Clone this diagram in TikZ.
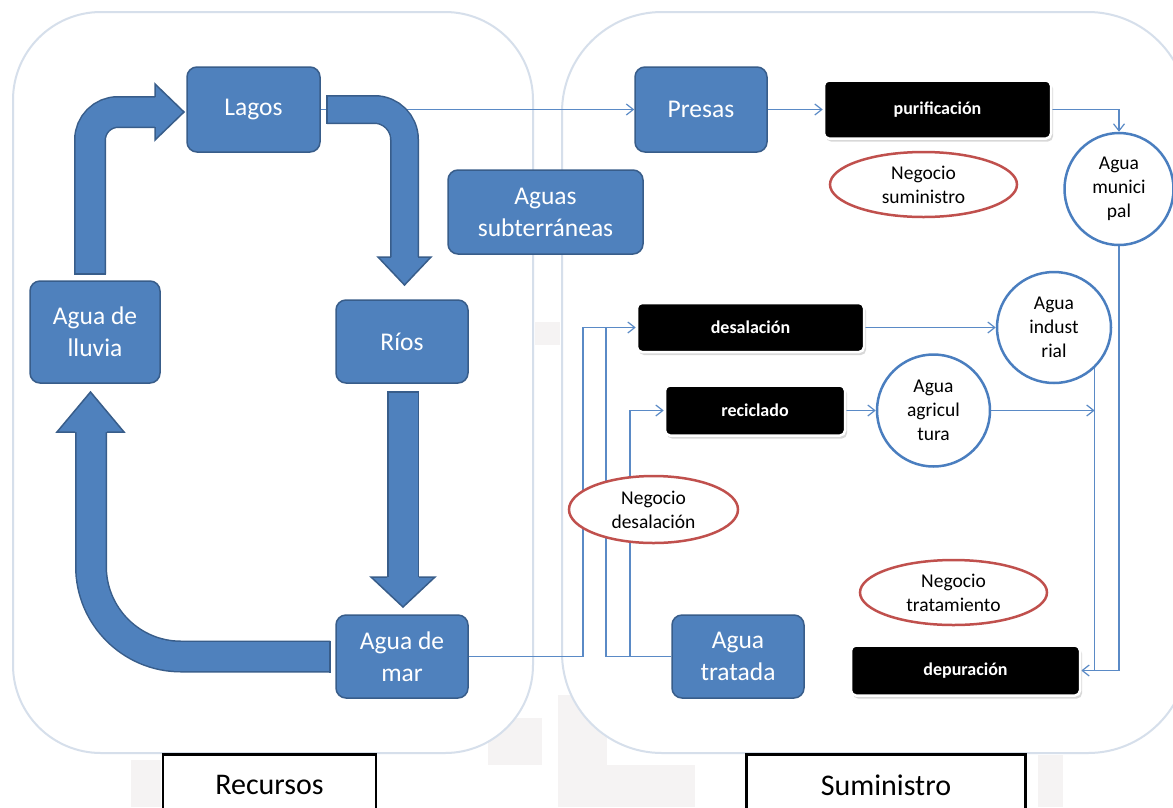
\documentclass[tikz,border=0pt]{standalone}
\usepackage{fontspec}
\setmainfont{Carlito}
\usetikzlibrary{arrows.meta,shapes.geometric,shadows}
\definecolor{bfill}{HTML}{4F81BD}
\definecolor{bdark}{HTML}{385D8A}
\definecolor{cblue}{HTML}{4A7EBF}
\definecolor{nred}{HTML}{C0504D}
\definecolor{frame}{HTML}{D6DFEB}
\definecolor{faint}{HTML}{F5F3F3}
\definecolor{lineblue}{HTML}{5A8AC6}
\pgfdeclarelayer{bgA}\pgfdeclarelayer{bgB}\pgfsetlayers{bgA,bgB,main}
\begin{document}
\begin{tikzpicture}[x=1pt,y=-1pt,
  bluebox/.style={rectangle, rounded corners=10pt, fill=bfill, draw=bdark, line width=1.5pt, text=white, align=center, font=\fontsize{25.5}{32}\selectfont, inner sep=0pt},
  blackbox/.style={rectangle, rounded corners=5pt, fill=black, draw=white, line width=2.5pt, text=white, font=\bfseries\fontsize{18}{20}\selectfont, inner sep=0pt, drop shadow={shadow xshift=2pt, shadow yshift=-3pt, opacity=0.3}},
  watercirc/.style={ellipse, draw=cblue, line width=2.5pt, fill=white, align=center, font=\fontsize{19.5}{24}\selectfont, inner sep=0pt},
  bizell/.style={ellipse, draw=nred, line width=2.5pt, fill=white, align=center, font=\fontsize{19.5}{24}\selectfont, inner sep=0pt},
  conn/.style={draw=lineblue, line width=1.2pt},
  arr/.style={conn, -{Straight Barb[length=7pt,width=11pt]}},
  container/.style={draw=frame, line width=2pt, fill=white, rounded corners=88pt},
  labelbox/.style={rectangle, draw=black, line width=2.5pt, fill=white, font=\fontsize{30}{34}\selectfont},
  shaftA/.style={line width=1.5pt, draw=bdark, double=bfill, double distance=29pt},
  headA/.style={fill=bfill, draw=bdark, line width=1.5pt, line join=miter},
  tailA/.style={draw=bdark, line width=1.5pt}
]
\useasboundingbox (0,0) rectangle (1173,807);
\clip (0,0) rectangle (1173,807);

% background
\begin{pgfonlayer}{bgA}
\fill[white] (0,0) rectangle (1173,807);
\fill[faint] (131,760) rectangle (161,807);
\fill[faint] (488,718) rectangle (542,765);
\fill[faint] (558,695) rectangle (607,807);
\fill[faint] (558,765) rectangle (695,807);
\fill[faint] (1038,755) rectangle (1063,807);
\fill[faint] (535,322) rectangle (560,345);
\draw[container] (13,12) rectangle (533,753);
\draw[container, rounded corners=100pt] (562,12) rectangle (1188,753);
\end{pgfonlayer}

% blue boxes
\node[bluebox, minimum width=133pt, minimum height=85pt] (lagos) at (253.5,109.5) {Lagos};
\node[bluebox, minimum width=130pt, minimum height=102pt] (lluvia) at (95,332) {Agua de\\lluvia};
\node[bluebox, minimum width=132pt, minimum height=83pt] (rios) at (402,341.5) {Ríos};
\node[bluebox, minimum width=132pt, minimum height=83pt] (mar) at (402,656.5) {Agua de\\mar};
\node[bluebox, minimum width=195pt, minimum height=84pt] (subt) at (545.5,212) {Aguas\\subterráneas};
\node[bluebox, minimum width=132pt, minimum height=85pt] (presas) at (701,109.5) {Presas};
\node[bluebox, minimum width=132pt, minimum height=83pt] (tratada) at (738,656.5) {Agua\\tratada};

% black boxes
\node[blackbox, minimum width=227pt, minimum height=58pt] (purif) at (937.5,109.5) {purificación};
\node[blackbox, minimum width=227pt, minimum height=49pt] (desal) at (750.5,327.5) {desalación};
\node[blackbox, minimum width=180pt, minimum height=50pt] (recic) at (755,410.5) {reciclado};
\node[blackbox, minimum width=229pt, minimum height=50pt] (depur) at (965.5,670.5) {depuración};

% water circles
\node[watercirc, minimum width=109pt, minimum height=112pt] (muni) at (1119,189) {Agua\\munici\\pal};
\node[watercirc, minimum width=114pt, minimum height=111pt] (indus) at (1054,327.5) {Agua\\indust\\rial};
\node[watercirc, minimum width=113pt, minimum height=112pt] (agri) at (933.5,410.5) {Agua\\agricul\\tura};

% business ellipses
\node[bizell, minimum width=187pt, minimum height=65pt] (nsum) at (923.5,184.5) {Negocio\\suministro};
\node[bizell, minimum width=169pt, minimum height=67pt] (ndes) at (653.5,509.5) {Negocio\\desalación};
\node[bizell, minimum width=187pt, minimum height=65pt] (ntra) at (953.5,592.5) {Negocio\\tratamiento};

% section labels
\node[labelbox, minimum width=213pt, minimum height=62pt, anchor=north] (recursos) at (269.5,753) {Recursos};
\node[labelbox, minimum width=279pt, minimum height=62pt, anchor=north] (sumin) at (886,753) {Suministro};

% thin connectors
\begin{pgfonlayer}{bgB}
\draw[arr] (lagos.east) -- (lagos.east -| presas.west);
\draw[arr] (presas.east) -- (presas.east -| purif.west);
\draw[arr] (purif.east) -| (muni.north);
\draw[arr] (muni.south) |- (depur.east);
\draw[conn] (indus.-45) -- (indus.-45 |- depur.east);
\draw[arr] (agri.east) -- (agri.east -| indus.-45);
\draw[arr] (desal.east) -- (desal.east -| indus.west);
\draw[arr] (recic.east) -- (recic.east -| agri.west);
\coordinate (m1) at (583,656.5);
\coordinate (t1) at (606,656.5);
\coordinate (t2) at (630,656.5);
\draw[arr] (mar.east) -- (m1) |- (desal.west);
\draw[conn] (tratada.west) -- (t1) -- (t1 |- desal.west);
\draw[arr] (t2) |- (recic.west);
\end{pgfonlayer}

% block arrows of the cycle
% lluvia -> lagos
\draw[shaftA, rounded corners=28pt] (90,274) -- (90,112) -- (156,112);
\filldraw[headA] (155,97) -- (155,84) -- (184,112) -- (155,140) -- (155,127);
\draw[tailA] (74,274) -- (106,274);
% lagos -> rios
\draw[shaftA, double distance=26pt, rounded corners=30pt] (327,109.5) -- (404.5,109.5) -- (404.5,258);
\filldraw[headA] (391,257) -- (378,257) -- (404.5,285) -- (431,257) -- (418,257);
\draw[tailA] (327,95) -- (327,124);
% rios -> mar
\draw[shaftA] (403,392) -- (403,578);
\filldraw[headA] (387,577) -- (371,577) -- (403,607) -- (435,577) -- (419,577);
\draw[tailA] (387,392) -- (419,392);
% mar -> lluvia
\draw[shaftA, rounded corners=90pt] (330,656.5) -- (91,656.5) -- (91,431);
\filldraw[headA] (75,432) -- (57,432) -- (90.5,392) -- (124,432) -- (107,432);
\draw[tailA] (330,640.5) -- (330,672.5);
\end{tikzpicture}
\end{document}
